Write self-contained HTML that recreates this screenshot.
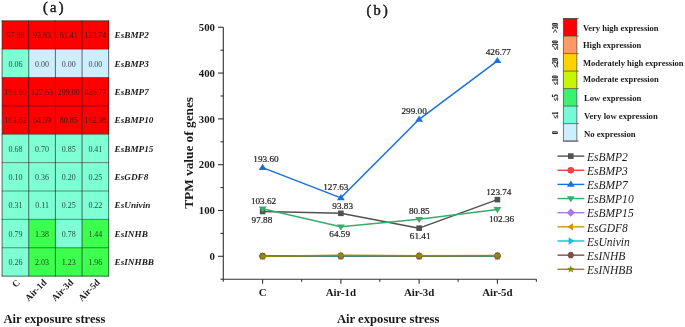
<!DOCTYPE html>
<html><head><meta charset="utf-8"><title>Figure</title>
<style>html,body{margin:0;padding:0;background:#fff;}body{width:685px;height:327px;overflow:hidden;}svg{display:block;will-change:transform;}text{font-family:"Liberation Serif",serif;fill:#1a1a1a;}</style>
</head><body>
<svg width="685" height="327" viewBox="0 0 685 327">
<rect width="685" height="327" fill="#ffffff"/>
<g>
<rect x="2.10" y="20.80" width="26.95" height="28.67" fill="#ff0000"/>
<rect x="28.75" y="20.80" width="26.95" height="28.67" fill="#ff0000"/>
<rect x="55.40" y="20.80" width="26.95" height="28.67" fill="#ff0000"/>
<rect x="82.05" y="20.80" width="26.95" height="28.67" fill="#ff0000"/>
<rect x="2.10" y="49.17" width="26.95" height="28.67" fill="#7fffd4"/>
<rect x="28.75" y="49.17" width="26.95" height="28.67" fill="#cceeff"/>
<rect x="55.40" y="49.17" width="26.95" height="28.67" fill="#cceeff"/>
<rect x="82.05" y="49.17" width="26.95" height="28.67" fill="#cceeff"/>
<rect x="2.10" y="77.54" width="26.95" height="28.67" fill="#ff0000"/>
<rect x="28.75" y="77.54" width="26.95" height="28.67" fill="#ff0000"/>
<rect x="55.40" y="77.54" width="26.95" height="28.67" fill="#ff0000"/>
<rect x="82.05" y="77.54" width="26.95" height="28.67" fill="#ff0000"/>
<rect x="2.10" y="105.91" width="26.95" height="28.67" fill="#ff0000"/>
<rect x="28.75" y="105.91" width="26.95" height="28.67" fill="#ff0000"/>
<rect x="55.40" y="105.91" width="26.95" height="28.67" fill="#ff0000"/>
<rect x="82.05" y="105.91" width="26.95" height="28.67" fill="#ff0000"/>
<rect x="2.10" y="134.28" width="26.95" height="28.67" fill="#7fffd4"/>
<rect x="28.75" y="134.28" width="26.95" height="28.67" fill="#7fffd4"/>
<rect x="55.40" y="134.28" width="26.95" height="28.67" fill="#7fffd4"/>
<rect x="82.05" y="134.28" width="26.95" height="28.67" fill="#7fffd4"/>
<rect x="2.10" y="162.65" width="26.95" height="28.67" fill="#7fffd4"/>
<rect x="28.75" y="162.65" width="26.95" height="28.67" fill="#7fffd4"/>
<rect x="55.40" y="162.65" width="26.95" height="28.67" fill="#7fffd4"/>
<rect x="82.05" y="162.65" width="26.95" height="28.67" fill="#7fffd4"/>
<rect x="2.10" y="191.02" width="26.95" height="28.67" fill="#7fffd4"/>
<rect x="28.75" y="191.02" width="26.95" height="28.67" fill="#7fffd4"/>
<rect x="55.40" y="191.02" width="26.95" height="28.67" fill="#7fffd4"/>
<rect x="82.05" y="191.02" width="26.95" height="28.67" fill="#7fffd4"/>
<rect x="2.10" y="219.39" width="26.95" height="28.67" fill="#7fffd4"/>
<rect x="28.75" y="219.39" width="26.95" height="28.67" fill="#3dff4d"/>
<rect x="55.40" y="219.39" width="26.95" height="28.67" fill="#7fffd4"/>
<rect x="82.05" y="219.39" width="26.95" height="28.67" fill="#3dff4d"/>
<rect x="2.10" y="247.76" width="26.95" height="28.67" fill="#7fffd4"/>
<rect x="28.75" y="247.76" width="26.95" height="28.67" fill="#3dff4d"/>
<rect x="55.40" y="247.76" width="26.95" height="28.67" fill="#3dff4d"/>
<rect x="82.05" y="247.76" width="26.95" height="28.67" fill="#3dff4d"/>
<path d="M2.10 20.45 V276.48" stroke="#1c1c1c" stroke-width="0.65"/>
<path d="M28.75 20.45 V276.48" stroke="#1c1c1c" stroke-width="0.65"/>
<path d="M55.40 20.45 V276.48" stroke="#1c1c1c" stroke-width="0.65"/>
<path d="M82.05 20.45 V276.48" stroke="#1c1c1c" stroke-width="0.65"/>
<path d="M108.70 20.45 V276.48" stroke="#1c1c1c" stroke-width="0.65"/>
<path d="M1.75 20.80 H109.05" stroke="#1c1c1c" stroke-width="0.65"/>
<path d="M1.75 49.17 H109.05" stroke="#1c1c1c" stroke-width="0.5"/>
<path d="M1.75 77.54 H109.05" stroke="#1c1c1c" stroke-width="0.5"/>
<path d="M1.75 105.91 H109.05" stroke="#1c1c1c" stroke-width="0.5"/>
<path d="M1.75 134.28 H109.05" stroke="#1c1c1c" stroke-width="0.5"/>
<path d="M1.75 162.65 H109.05" stroke="#1c1c1c" stroke-width="0.5"/>
<path d="M1.75 191.02 H109.05" stroke="#1c1c1c" stroke-width="0.5"/>
<path d="M1.75 219.39 H109.05" stroke="#1c1c1c" stroke-width="0.5"/>
<path d="M1.75 247.76 H109.05" stroke="#1c1c1c" stroke-width="0.5"/>
<path d="M1.75 276.13 H109.05" stroke="#1c1c1c" stroke-width="0.65"/>
<text transform="translate(15.42,38.18) scale(1.04,1)" font-size="7.7" text-anchor="middle" fill="#111" fill-opacity="0.82">97.88</text>
<text transform="translate(42.08,38.18) scale(1.04,1)" font-size="7.7" text-anchor="middle" fill="#111" fill-opacity="0.82">93.83</text>
<text transform="translate(68.72,38.18) scale(1.04,1)" font-size="7.7" text-anchor="middle" fill="#111" fill-opacity="0.82">61.41</text>
<text transform="translate(95.37,38.18) scale(1.04,1)" font-size="7.7" text-anchor="middle" fill="#111" fill-opacity="0.82">123.74</text>
<text x="114.6" y="38.19" font-size="9.2" font-weight="bold" font-style="italic">EsBMP2</text>
<text transform="translate(15.42,66.56) scale(1.04,1)" font-size="7.7" text-anchor="middle" fill="#111" fill-opacity="0.82">0.06</text>
<text transform="translate(42.08,66.56) scale(1.04,1)" font-size="7.7" text-anchor="middle" fill="#111" fill-opacity="0.82">0.00</text>
<text transform="translate(68.72,66.56) scale(1.04,1)" font-size="7.7" text-anchor="middle" fill="#111" fill-opacity="0.82">0.00</text>
<text transform="translate(95.37,66.56) scale(1.04,1)" font-size="7.7" text-anchor="middle" fill="#111" fill-opacity="0.82">0.00</text>
<text x="114.6" y="66.56" font-size="9.2" font-weight="bold" font-style="italic">EsBMP3</text>
<text transform="translate(15.42,94.93) scale(1.04,1)" font-size="7.7" text-anchor="middle" fill="#111" fill-opacity="0.82">193.60</text>
<text transform="translate(42.08,94.93) scale(1.04,1)" font-size="7.7" text-anchor="middle" fill="#111" fill-opacity="0.82">127.63</text>
<text transform="translate(68.72,94.93) scale(1.04,1)" font-size="7.7" text-anchor="middle" fill="#111" fill-opacity="0.82">299.00</text>
<text transform="translate(95.37,94.93) scale(1.04,1)" font-size="7.7" text-anchor="middle" fill="#111" fill-opacity="0.82">426.77</text>
<text x="114.6" y="94.93" font-size="9.2" font-weight="bold" font-style="italic">EsBMP7</text>
<text transform="translate(15.42,123.30) scale(1.04,1)" font-size="7.7" text-anchor="middle" fill="#111" fill-opacity="0.82">103.62</text>
<text transform="translate(42.08,123.30) scale(1.04,1)" font-size="7.7" text-anchor="middle" fill="#111" fill-opacity="0.82">64.59</text>
<text transform="translate(68.72,123.30) scale(1.04,1)" font-size="7.7" text-anchor="middle" fill="#111" fill-opacity="0.82">80.85</text>
<text transform="translate(95.37,123.30) scale(1.04,1)" font-size="7.7" text-anchor="middle" fill="#111" fill-opacity="0.82">102.36</text>
<text x="114.6" y="123.30" font-size="9.2" font-weight="bold" font-style="italic">EsBMP10</text>
<text transform="translate(15.42,151.67) scale(1.04,1)" font-size="7.7" text-anchor="middle" fill="#111" fill-opacity="0.82">0.68</text>
<text transform="translate(42.08,151.67) scale(1.04,1)" font-size="7.7" text-anchor="middle" fill="#111" fill-opacity="0.82">0.70</text>
<text transform="translate(68.72,151.67) scale(1.04,1)" font-size="7.7" text-anchor="middle" fill="#111" fill-opacity="0.82">0.85</text>
<text transform="translate(95.37,151.67) scale(1.04,1)" font-size="7.7" text-anchor="middle" fill="#111" fill-opacity="0.82">0.41</text>
<text x="114.6" y="151.66" font-size="9.2" font-weight="bold" font-style="italic">EsBMP15</text>
<text transform="translate(15.42,180.04) scale(1.04,1)" font-size="7.7" text-anchor="middle" fill="#111" fill-opacity="0.82">0.10</text>
<text transform="translate(42.08,180.04) scale(1.04,1)" font-size="7.7" text-anchor="middle" fill="#111" fill-opacity="0.82">0.36</text>
<text transform="translate(68.72,180.04) scale(1.04,1)" font-size="7.7" text-anchor="middle" fill="#111" fill-opacity="0.82">0.20</text>
<text transform="translate(95.37,180.04) scale(1.04,1)" font-size="7.7" text-anchor="middle" fill="#111" fill-opacity="0.82">0.25</text>
<text x="114.6" y="180.03" font-size="9.2" font-weight="bold" font-style="italic">EsGDF8</text>
<text transform="translate(15.42,208.41) scale(1.04,1)" font-size="7.7" text-anchor="middle" fill="#111" fill-opacity="0.82">0.31</text>
<text transform="translate(42.08,208.41) scale(1.04,1)" font-size="7.7" text-anchor="middle" fill="#111" fill-opacity="0.82">0.11</text>
<text transform="translate(68.72,208.41) scale(1.04,1)" font-size="7.7" text-anchor="middle" fill="#111" fill-opacity="0.82">0.25</text>
<text transform="translate(95.37,208.41) scale(1.04,1)" font-size="7.7" text-anchor="middle" fill="#111" fill-opacity="0.82">0.22</text>
<text x="114.6" y="208.41" font-size="9.2" font-weight="bold" font-style="italic">EsUnivin</text>
<text transform="translate(15.42,236.78) scale(1.04,1)" font-size="7.7" text-anchor="middle" fill="#111" fill-opacity="0.82">0.79</text>
<text transform="translate(42.08,236.78) scale(1.04,1)" font-size="7.7" text-anchor="middle" fill="#111" fill-opacity="0.82">1.38</text>
<text transform="translate(68.72,236.78) scale(1.04,1)" font-size="7.7" text-anchor="middle" fill="#111" fill-opacity="0.82">0.78</text>
<text transform="translate(95.37,236.78) scale(1.04,1)" font-size="7.7" text-anchor="middle" fill="#111" fill-opacity="0.82">1.44</text>
<text x="114.6" y="236.78" font-size="9.2" font-weight="bold" font-style="italic">EsINHB</text>
<text transform="translate(15.42,265.14) scale(1.04,1)" font-size="7.7" text-anchor="middle" fill="#111" fill-opacity="0.82">0.26</text>
<text transform="translate(42.08,265.14) scale(1.04,1)" font-size="7.7" text-anchor="middle" fill="#111" fill-opacity="0.82">2.03</text>
<text transform="translate(68.72,265.14) scale(1.04,1)" font-size="7.7" text-anchor="middle" fill="#111" fill-opacity="0.82">1.23</text>
<text transform="translate(95.37,265.14) scale(1.04,1)" font-size="7.7" text-anchor="middle" fill="#111" fill-opacity="0.82">1.96</text>
<text x="114.6" y="265.14" font-size="9.2" font-weight="bold" font-style="italic">EsINHBB</text>
</g>
<text transform="translate(20.52,283.10) rotate(-45)" font-size="9.4" font-weight="bold" text-anchor="end">C</text>
<text transform="translate(47.18,283.10) rotate(-45)" font-size="9.4" font-weight="bold" text-anchor="end">Air-1d</text>
<text transform="translate(73.82,283.10) rotate(-45)" font-size="9.4" font-weight="bold" text-anchor="end">Air-3d</text>
<text transform="translate(100.47,283.10) rotate(-45)" font-size="9.4" font-weight="bold" text-anchor="end">Air-5d</text>
<text x="3.4" y="322.5" font-size="12.57" font-weight="bold">Air exposure stress</text>
<text transform="translate(43.1,11.7) scale(1.06,1)" font-size="13.6" letter-spacing="2.1" stroke="#1a1a1a" stroke-width="0.45">(a)</text>
<text transform="translate(366.6,14.6) scale(1.06,1)" font-size="13.6" letter-spacing="2.1" stroke="#1a1a1a" stroke-width="0.45">(b)</text>
<g stroke="#333333" stroke-width="1.1" fill="none">
<path d="M223.3 27.25 V279.2 H536.5"/>
<path d="M218.0 256.30 H223.3"/>
<path d="M218.0 210.49 H223.3"/>
<path d="M218.0 164.68 H223.3"/>
<path d="M218.0 118.87 H223.3"/>
<path d="M218.0 73.06 H223.3"/>
<path d="M218.0 27.25 H223.3"/>
<path d="M220.5 279.21 H223.3"/>
<path d="M220.5 233.40 H223.3"/>
<path d="M220.5 187.59 H223.3"/>
<path d="M220.5 141.78 H223.3"/>
<path d="M220.5 95.97 H223.3"/>
<path d="M220.5 50.16 H223.3"/>
<path d="M262.60 279.2 V283.8"/>
<path d="M340.87 279.2 V283.8"/>
<path d="M419.14 279.2 V283.8"/>
<path d="M497.40 279.2 V283.8"/>
<path d="M223.30 279.2 V281.8"/>
<path d="M301.57 279.2 V281.8"/>
<path d="M379.84 279.2 V281.8"/>
<path d="M458.11 279.2 V281.8"/>
<path d="M536.38 279.2 V281.8"/>
</g>
<text x="215" y="260.00" font-size="10.8" font-weight="bold" text-anchor="end">0</text>
<text x="215" y="214.19" font-size="10.8" font-weight="bold" text-anchor="end">100</text>
<text x="215" y="168.38" font-size="10.8" font-weight="bold" text-anchor="end">200</text>
<text x="215" y="122.57" font-size="10.8" font-weight="bold" text-anchor="end">300</text>
<text x="215" y="76.76" font-size="10.8" font-weight="bold" text-anchor="end">400</text>
<text x="215" y="30.95" font-size="10.8" font-weight="bold" text-anchor="end">500</text>
<text x="262.60" y="295.9" font-size="10.9" font-weight="bold" text-anchor="middle">C</text>
<text x="340.87" y="295.9" font-size="10.9" font-weight="bold" text-anchor="middle">Air-1d</text>
<text x="419.14" y="295.9" font-size="10.9" font-weight="bold" text-anchor="middle">Air-3d</text>
<text x="497.40" y="295.9" font-size="10.9" font-weight="bold" text-anchor="middle">Air-5d</text>
<text x="388.2" y="322.5" font-size="12.65" font-weight="bold" text-anchor="middle">Air exposure stress</text>
<text transform="translate(193.2,152.9) rotate(-90)" font-size="13.3" font-weight="bold" text-anchor="middle">TPM value of genes</text>
<polyline points="262.60,211.46 340.87,213.32 419.14,228.17 497.40,199.61" fill="none" stroke="#515151" stroke-width="1.5" stroke-linejoin="round"/>
<rect x="259.80" y="208.66" width="5.6" height="5.6" fill="#515151"/>
<rect x="338.07" y="210.52" width="5.6" height="5.6" fill="#515151"/>
<rect x="416.34" y="225.37" width="5.6" height="5.6" fill="#515151"/>
<rect x="494.60" y="196.81" width="5.6" height="5.6" fill="#515151"/>
<polyline points="262.60,256.27 340.87,256.30 419.14,256.30 497.40,256.30" fill="none" stroke="#F14040" stroke-width="1.5" stroke-linejoin="round"/>
<circle cx="262.60" cy="256.27" r="3.3" fill="#F14040"/>
<circle cx="340.87" cy="256.30" r="3.3" fill="#F14040"/>
<circle cx="419.14" cy="256.30" r="3.3" fill="#F14040"/>
<circle cx="497.40" cy="256.30" r="3.3" fill="#F14040"/>
<polyline points="262.60,167.61 340.87,197.83 419.14,119.33 497.40,60.80" fill="none" stroke="#1A6FDF" stroke-width="1.5" stroke-linejoin="round"/>
<path d="M262.60 163.81 L266.50 169.91 L258.70 169.91 Z" fill="#1A6FDF"/>
<path d="M340.87 194.03 L344.77 200.13 L336.97 200.13 Z" fill="#1A6FDF"/>
<path d="M419.14 115.53 L423.04 121.63 L415.24 121.63 Z" fill="#1A6FDF"/>
<path d="M497.40 57.00 L501.30 63.10 L493.50 63.10 Z" fill="#1A6FDF"/>
<polyline points="262.60,208.83 340.87,226.71 419.14,219.26 497.40,209.41" fill="none" stroke="#37AD6B" stroke-width="1.5" stroke-linejoin="round"/>
<path d="M262.60 212.63 L266.50 206.53 L258.70 206.53 Z" fill="#37AD6B"/>
<path d="M340.87 230.51 L344.77 224.41 L336.97 224.41 Z" fill="#37AD6B"/>
<path d="M419.14 223.06 L423.04 216.96 L415.24 216.96 Z" fill="#37AD6B"/>
<path d="M497.40 213.21 L501.30 207.11 L493.50 207.11 Z" fill="#37AD6B"/>
<polyline points="262.60,255.99 340.87,255.98 419.14,255.91 497.40,256.11" fill="none" stroke="#B177DE" stroke-width="1.5" stroke-linejoin="round"/>
<path d="M262.60 251.89 L266.70 255.99 L262.60 260.09 L258.50 255.99 Z" fill="#B177DE"/>
<path d="M340.87 251.88 L344.97 255.98 L340.87 260.08 L336.77 255.98 Z" fill="#B177DE"/>
<path d="M419.14 251.81 L423.24 255.91 L419.14 260.01 L415.04 255.91 Z" fill="#B177DE"/>
<path d="M497.40 252.01 L501.50 256.11 L497.40 260.21 L493.30 256.11 Z" fill="#B177DE"/>
<polyline points="262.60,256.25 340.87,256.14 419.14,256.21 497.40,256.19" fill="none" stroke="#CC9900" stroke-width="1.5" stroke-linejoin="round"/>
<path d="M258.90 256.25 L264.80 252.55 L264.80 259.95 Z" fill="#CC9900"/>
<path d="M337.17 256.14 L343.07 252.44 L343.07 259.84 Z" fill="#CC9900"/>
<path d="M415.44 256.21 L421.34 252.51 L421.34 259.91 Z" fill="#CC9900"/>
<path d="M493.70 256.19 L499.60 252.49 L499.60 259.89 Z" fill="#CC9900"/>
<polyline points="262.60,256.16 340.87,256.25 419.14,256.19 497.40,256.20" fill="none" stroke="#00CBCC" stroke-width="1.5" stroke-linejoin="round"/>
<path d="M266.30 256.16 L260.40 252.46 L260.40 259.86 Z" fill="#00CBCC"/>
<path d="M344.57 256.25 L338.67 252.55 L338.67 259.95 Z" fill="#00CBCC"/>
<path d="M422.84 256.19 L416.94 252.49 L416.94 259.89 Z" fill="#00CBCC"/>
<path d="M501.10 256.20 L495.20 252.50 L495.20 259.90 Z" fill="#00CBCC"/>
<polyline points="262.60,255.94 340.87,255.67 419.14,255.94 497.40,255.64" fill="none" stroke="#7D4E4E" stroke-width="1.5" stroke-linejoin="round"/>
<polygon points="266.10,255.94 264.35,258.97 260.85,258.97 259.10,255.94 260.85,252.91 264.35,252.91" fill="#7D4E4E"/>
<polygon points="344.37,255.67 342.62,258.70 339.12,258.70 337.37,255.67 339.12,252.64 342.62,252.64" fill="#7D4E4E"/>
<polygon points="422.64,255.94 420.89,258.97 417.39,258.97 415.64,255.94 417.39,252.91 420.89,252.91" fill="#7D4E4E"/>
<polygon points="500.90,255.64 499.15,258.67 495.65,258.67 493.90,255.64 495.65,252.61 499.15,252.61" fill="#7D4E4E"/>
<polyline points="262.60,256.18 340.87,255.37 419.14,255.74 497.40,255.40" fill="none" stroke="#8E8E00" stroke-width="1.5" stroke-linejoin="round"/>
<polygon points="262.60,252.18 263.66,254.72 266.40,254.94 264.31,256.74 264.95,259.42 262.60,257.98 260.25,259.42 260.89,256.74 258.80,254.94 261.54,254.72" fill="#8E8E00"/>
<polygon points="340.87,251.37 341.93,253.91 344.67,254.13 342.58,255.93 343.22,258.61 340.87,257.17 338.52,258.61 339.16,255.93 337.07,254.13 339.81,253.91" fill="#8E8E00"/>
<polygon points="419.14,251.74 420.20,254.28 422.94,254.50 420.85,256.29 421.49,258.97 419.14,257.54 416.79,258.97 417.43,256.29 415.34,254.50 418.08,254.28" fill="#8E8E00"/>
<polygon points="497.40,251.40 498.46,253.95 501.20,254.17 499.11,255.96 499.75,258.64 497.40,257.20 495.05,258.64 495.69,255.96 493.60,254.17 496.34,253.95" fill="#8E8E00"/>
<text x="253.3" y="162.2" font-size="9.2" stroke="#1a1a1a" stroke-width="0.2">193.60</text>
<text x="250.9" y="204.3" font-size="9.2" stroke="#1a1a1a" stroke-width="0.2">103.62</text>
<text x="251.6" y="223.3" font-size="9.2" stroke="#1a1a1a" stroke-width="0.2">97.88</text>
<text x="323.2" y="189.6" font-size="9.2" stroke="#1a1a1a" stroke-width="0.2">127.63</text>
<text x="332.3" y="208.6" font-size="9.2" stroke="#1a1a1a" stroke-width="0.2">93.83</text>
<text x="329.3" y="237.2" font-size="9.2" stroke="#1a1a1a" stroke-width="0.2">64.59</text>
<text x="401.5" y="114.2" font-size="9.2" stroke="#1a1a1a" stroke-width="0.2">299.00</text>
<text x="408.9" y="214.2" font-size="9.2" stroke="#1a1a1a" stroke-width="0.2">80.85</text>
<text x="409.8" y="238.7" font-size="9.2" stroke="#1a1a1a" stroke-width="0.2">61.41</text>
<text x="485.7" y="54.9" font-size="9.2" stroke="#1a1a1a" stroke-width="0.2">426.77</text>
<text x="486.2" y="194.9" font-size="9.2" stroke="#1a1a1a" stroke-width="0.2">123.74</text>
<text x="488.9" y="221.8" font-size="9.2" stroke="#1a1a1a" stroke-width="0.2">102.36</text>
<path d="M557.5 156.10 H584.3" stroke="#515151" stroke-width="1.4"/>
<rect x="568.00" y="153.30" width="5.6" height="5.6" fill="#515151"/>
<text transform="translate(586.9,160.80) scale(0.93,1)" font-size="12.4" font-style="italic">EsBMP2</text>
<path d="M557.5 170.25 H584.3" stroke="#F14040" stroke-width="1.4"/>
<circle cx="570.80" cy="170.25" r="3.3" fill="#F14040"/>
<text transform="translate(586.9,174.95) scale(0.93,1)" font-size="12.4" font-style="italic">EsBMP3</text>
<path d="M557.5 184.40 H584.3" stroke="#1A6FDF" stroke-width="1.4"/>
<path d="M570.80 180.60 L574.70 186.70 L566.90 186.70 Z" fill="#1A6FDF"/>
<text transform="translate(586.9,189.10) scale(0.93,1)" font-size="12.4" font-style="italic">EsBMP7</text>
<path d="M557.5 198.55 H584.3" stroke="#37AD6B" stroke-width="1.4"/>
<path d="M570.80 202.35 L574.70 196.25 L566.90 196.25 Z" fill="#37AD6B"/>
<text transform="translate(586.9,203.25) scale(0.93,1)" font-size="12.4" font-style="italic">EsBMP10</text>
<path d="M557.5 212.70 H584.3" stroke="#B177DE" stroke-width="1.4"/>
<path d="M570.80 208.60 L574.90 212.70 L570.80 216.80 L566.70 212.70 Z" fill="#B177DE"/>
<text transform="translate(586.9,217.40) scale(0.93,1)" font-size="12.4" font-style="italic">EsBMP15</text>
<path d="M557.5 226.85 H584.3" stroke="#CC9900" stroke-width="1.4"/>
<path d="M567.10 226.85 L573.00 223.15 L573.00 230.55 Z" fill="#CC9900"/>
<text transform="translate(586.9,231.55) scale(0.93,1)" font-size="12.4" font-style="italic">EsGDF8</text>
<path d="M557.5 241.00 H584.3" stroke="#00CBCC" stroke-width="1.4"/>
<path d="M574.50 241.00 L568.60 237.30 L568.60 244.70 Z" fill="#00CBCC"/>
<text transform="translate(586.9,245.70) scale(0.93,1)" font-size="12.4" font-style="italic">EsUnivin</text>
<path d="M557.5 255.15 H584.3" stroke="#7D4E4E" stroke-width="1.4"/>
<polygon points="574.30,255.15 572.55,258.18 569.05,258.18 567.30,255.15 569.05,252.12 572.55,252.12" fill="#7D4E4E"/>
<text transform="translate(586.9,259.85) scale(0.93,1)" font-size="12.4" font-style="italic">EsINHB</text>
<path d="M557.5 269.30 H584.3" stroke="#8E8E00" stroke-width="1.4"/>
<polygon points="570.80,265.30 571.86,267.84 574.60,268.06 572.51,269.86 573.15,272.54 570.80,271.10 568.45,272.54 569.09,269.86 567.00,268.06 569.74,267.84" fill="#8E8E00"/>
<text transform="translate(586.9,274.00) scale(0.93,1)" font-size="12.4" font-style="italic">EsINHBB</text>
<rect x="563.3" y="18.60" width="13.60" height="17.5" fill="#ff0000"/>
<rect x="563.3" y="36.10" width="13.60" height="17.5" fill="#ff9966"/>
<rect x="563.3" y="53.60" width="13.60" height="17.5" fill="#ffd200"/>
<rect x="563.3" y="71.10" width="13.60" height="17.5" fill="#c6f600"/>
<rect x="563.3" y="88.60" width="13.60" height="17.5" fill="#3df070"/>
<rect x="563.3" y="106.10" width="13.60" height="17.5" fill="#76f9d7"/>
<rect x="563.3" y="123.60" width="13.60" height="17.5" fill="#cceeff"/>
<g stroke="#444" stroke-width="0.7" fill="none">
<rect x="563.3" y="18.6" width="13.60" height="122.5"/>
<path d="M563.3 18.60 H578.8"/>
<path d="M563.3 36.10 H578.8"/>
<path d="M563.3 53.60 H578.8"/>
<path d="M563.3 71.10 H578.8"/>
<path d="M563.3 88.60 H578.8"/>
<path d="M563.3 106.10 H578.8"/>
<path d="M563.3 123.60 H578.8"/>
<path d="M563.3 141.10 H578.8"/>
</g>
<text x="582.9" y="30.75" font-size="8.52" font-weight="bold">Very high expression</text>
<text transform="translate(558.35,27.75) rotate(-90) scale(0.88,1)" font-size="7.35" font-weight="bold" text-anchor="middle" stroke="#1a1a1a" stroke-width="0.2">&gt;30</text>
<text x="582.9" y="48.25" font-size="8.52" font-weight="bold">High expression</text>
<text transform="translate(558.35,45.25) rotate(-90) scale(0.88,1)" font-size="7.35" font-weight="bold" text-anchor="middle" stroke="#1a1a1a" stroke-width="0.2">&#8804;30</text>
<text x="582.9" y="65.75" font-size="8.52" font-weight="bold">Moderately high expression</text>
<text transform="translate(558.35,62.75) rotate(-90) scale(0.88,1)" font-size="7.35" font-weight="bold" text-anchor="middle" stroke="#1a1a1a" stroke-width="0.2">&#8804;20</text>
<text x="582.9" y="82.25" font-size="8.52" font-weight="bold">Moderate expression</text>
<text transform="translate(558.35,80.25) rotate(-90) scale(0.88,1)" font-size="7.35" font-weight="bold" text-anchor="middle" stroke="#1a1a1a" stroke-width="0.2">&#8804;10</text>
<text x="584.0" y="100.95" font-size="8.68" font-weight="bold">Low expression</text>
<text transform="translate(558.35,97.75) rotate(-90) scale(0.88,1)" font-size="7.35" font-weight="bold" text-anchor="middle" stroke="#1a1a1a" stroke-width="0.2">&#8804;5</text>
<text x="584.0" y="118.55" font-size="8.68" font-weight="bold">Very low expression</text>
<text transform="translate(558.35,115.25) rotate(-90) scale(0.88,1)" font-size="7.35" font-weight="bold" text-anchor="middle" stroke="#1a1a1a" stroke-width="0.2">&#8804;1</text>
<text x="584.0" y="136.85" font-size="8.68" font-weight="bold">No expression</text>
<text transform="translate(558.35,132.75) rotate(-90) scale(0.88,1)" font-size="7.35" font-weight="bold" text-anchor="middle" stroke="#1a1a1a" stroke-width="0.2">0</text>
</svg>
</body></html>
